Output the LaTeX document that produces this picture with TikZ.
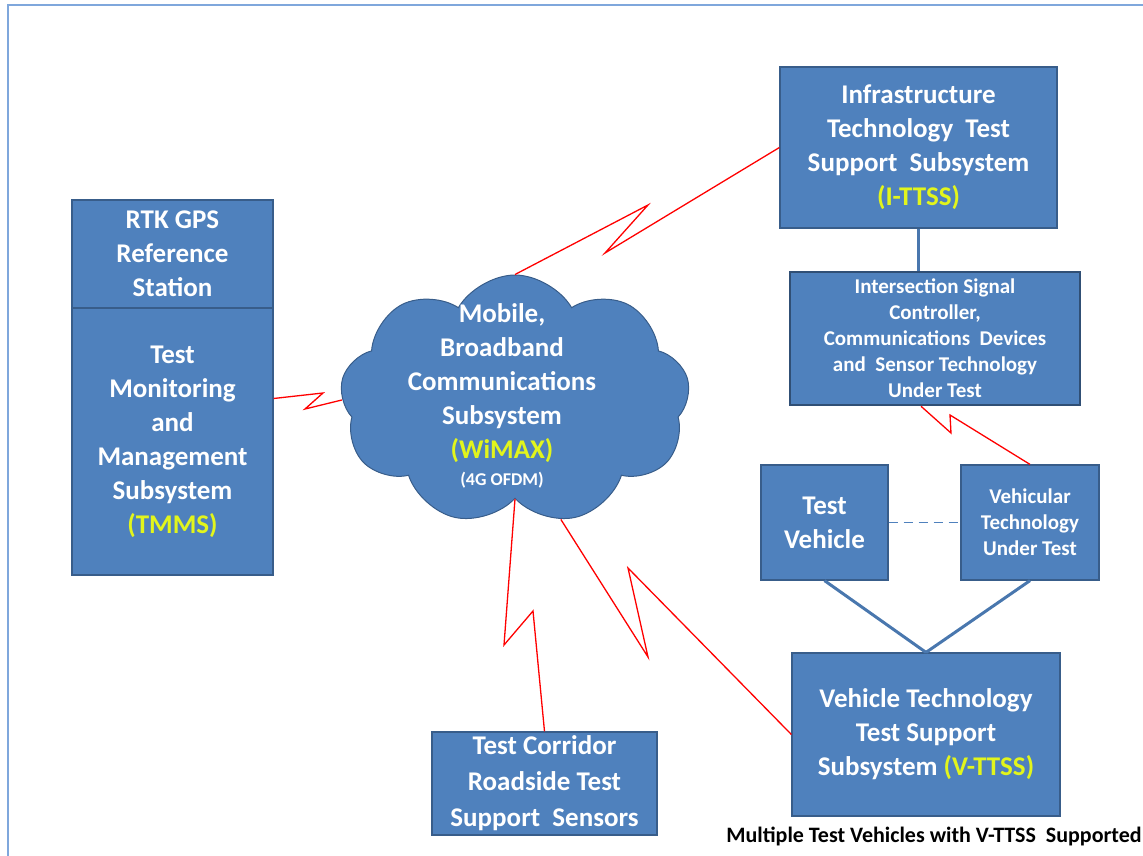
\documentclass[tikz,border=0pt]{standalone}
\usepackage{fontspec}
\setmainfont{Carlito}
\usepackage{tikz}
\usetikzlibrary{shapes.symbols,calc}

\definecolor{boxfill}{HTML}{4F81BD}
\definecolor{boxline}{HTML}{385D8A}
\definecolor{labyellow}{HTML}{E2F51C}
\definecolor{framecol}{HTML}{7FA7DC}

\begin{document}
\begin{tikzpicture}[x=1pt,y=-1pt]
	\tikzstyle{sub_box}=[draw=boxline, fill=boxfill, line width=1.2pt, text=white, align=center, inner sep=0pt, font=\bfseries\fontsize{27}{34}\selectfont];
	\tikzstyle{small_box}=[sub_box, font=\bfseries\fontsize{21}{26}\selectfont];
	\tikzstyle{radio_link}=[draw=red, line width=1.3pt, line join=miter];
	\tikzstyle{wire_link}=[draw=boxfill!92!black, line width=3pt];

	\useasboundingbox (0,0) rectangle (1143,856);
	\draw[framecol, line width=1.2pt] (8,856) -- (8,5) -- (1143,5);

	% cloud in the middle
	\node[cloud, cloud puffs=9, cloud puff arc=120, draw=boxline, fill=boxfill, line width=1pt, minimum width=350pt, minimum height=250pt, inner sep=0pt] (n_wimax) at (515,400) {};
	\node[align=center, text=white, font=\bfseries\fontsize{27}{34}\selectfont] (n_wimax_txt) at (502,396) {Mobile,\\Broadband\\Communications\\Subsystem\\\textcolor{labyellow}{(WiMAX)}\\[-7pt]{\fontsize{18}{20}\selectfont (4G OFDM)}};

	\node[sub_box, minimum width=201pt, minimum height=108pt] (n_rtk) at (172.5,254) {RTK GPS\\Reference\\Station};
	\node[sub_box, minimum width=201pt, minimum height=267pt] (n_tmms) at (172.5,441.5) {Test\\Monitoring\\and\\Management\\Subsystem\\\textcolor{labyellow}{(TMMS)}};

	\node[sub_box, minimum width=277pt, minimum height=161pt] (n_ittss) at (918.5,147.5) {Infrastructure\\Technology\ \ Test\\Support\ \ Subsystem\\\textcolor{labyellow}{(I-TTSS)}};
	\node[small_box, draw=boxline!85!black, line width=2.5pt, minimum width=290pt, minimum height=133pt] (n_isc) at (935,338.5) {Intersection Signal\\Controller,\\Communications\ \ Devices\\and\ \ Sensor Technology\\Under Test};

	\node[sub_box, minimum width=127pt, minimum height=115pt] (n_tveh) at (824.5,522.5) {Test\\Vehicle};
	\node[small_box, minimum width=138pt, minimum height=115pt] (n_vtut) at (1030,522.5) {Vehicular\\Technology\\Under Test};
	\node[sub_box, minimum width=268pt, minimum height=163pt] (n_vttss) at (926,734.5) {Vehicle Technology\\Test Support\\Subsystem \textcolor{labyellow}{(V-TTSS)}};
	\node[sub_box, font=\bfseries\fontsize{27}{36}\selectfont, minimum width=225pt, minimum height=103pt] (n_corr) at (544.5,783.5) {Test Corridor\\Roadside Test\\Support\ \ Sensors};

	\node[font=\bfseries\fontsize{22}{24}\selectfont] (n_caption) at (934,836) {Multiple Test Vehicles with V-TTSS\ \ Supported};

	% wired links
	\draw[wire_link] (n_ittss.south) -- (n_ittss.south |- n_isc.north);
	\draw[wire_link] (n_tveh.south) -- (n_vttss.north);
	\draw[wire_link] (n_vtut.south) -- (n_vttss.north);
	\draw[boxfill, line width=1.5pt, dash pattern=on 9pt off 6pt] (n_tveh.east) -- (n_vtut.west);

	% radio links
	\draw[radio_link] (n_wimax.north) -- (648,205) -- (605,253) -- (n_ittss.west);
	\draw[radio_link] ([yshift=43pt]n_tmms.east) -- (323,393) -- (305,409) -- (n_wimax.west);
	\draw[radio_link] (n_wimax.south) -- (504,645) -- (533,611) -- (n_corr.north);
	\draw[radio_link] (n_wimax.-69) -- (648,657) -- (628,568) -- (n_vttss.west);
	\draw[radio_link] ([xshift=-14pt]n_isc.south) -- (951,433) -- (950,415) -- (n_vtut.north);
\end{tikzpicture}
\end{document}
